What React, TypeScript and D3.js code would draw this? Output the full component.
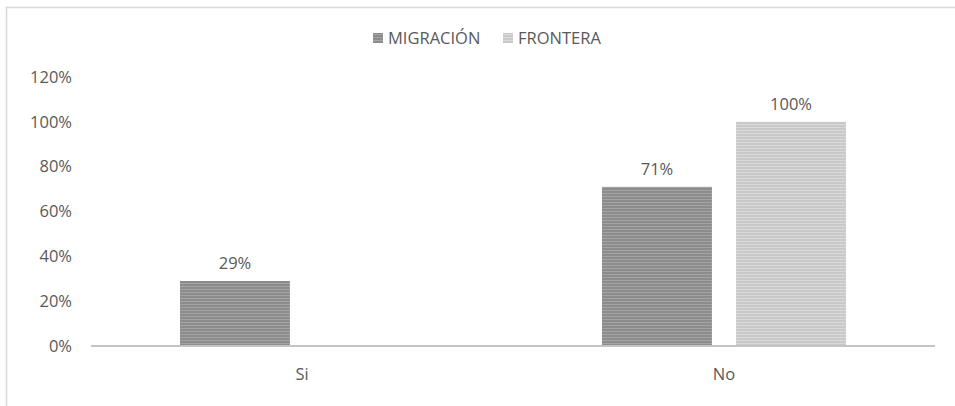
import * as d3 from "d3";

// chart data
const categories = ["Si", "No"];
const series = ["MIGRACIÓN", "FRONTERA"];
const migracion = [0.29, 0.71];
const frontera = [0, 1.0];
const yTicks = [0, 0.2, 0.4, 0.6, 0.8, 1.0, 1.2];

const seriesValues = [migracion, frontera];
const colors = ["#8c8c8c", "#c9c9c9"];
const stripe = ["#a4a4a4", "#dadada"];

export default function App() {
  const width = 955;
  const height = 406;
  const marginLeft = 91;
  const marginRight = 20;
  const marginTop = 77;
  const marginBottom = 60;

  const x0 = d3.scaleBand<string>()
    .domain(categories)
    .range([marginLeft, width - marginRight])
    .paddingInner(0)
    .paddingOuter(0);

  const half = 122;
  const x1 = d3.scaleBand<string>()
    .domain(series)
    .range([x0.bandwidth() / 2 - half, x0.bandwidth() / 2 + half])
    .paddingInner(0.18);

  const y = d3.scaleLinear([0, 1.2], [height - marginBottom, marginTop]);
  const fmt = d3.format(".0%");
  const textColor = "#595959";
  const font = "'Open Sans', sans-serif";
  const fs = 16.5;

  return (
    <svg
      width={width}
      height={height}
      style={{ position: "absolute", left: 0, top: 0, background: "#fff", fontFamily: font }}
    >
      <defs>
        {series.map((s, i) => (
          <pattern key={s} id={`stripe${i}`} width={4} height={3} patternUnits="userSpaceOnUse">
            <rect width={4} height={3} fill={colors[i]} />
            <rect width={4} height={1} y={1} fill={stripe[i]} />
          </pattern>
        ))}
      </defs>

      {/* frame */}
      <line x1={6.5} x2={6.5} y1={7} y2={height} stroke="#d9d9d9" strokeWidth={1.5} />
      <line x1={6} x2={width} y1={7.5} y2={7.5} stroke="#d9d9d9" strokeWidth={1.5} />

      {/* legend */}
      {series.map((s, i) => {
        const lx = i === 0 ? 373 : 503;
        return (
          <g key={s}>
            <rect x={lx} y={33} width={10} height={10} fill={`url(#stripe${i})`} />
            <text x={lx + 15} y={44} fontSize={fs} fill={textColor}>{s}</text>
          </g>
        );
      })}

      {/* y axis labels */}
      {yTicks.map(t => (
        <text key={t} x={72} y={y(t)} dy="0.35em" textAnchor="end" fontSize={fs} fill={textColor}>
          {fmt(t)}
        </text>
      ))}

      {/* bars */}
      {categories.map((c, ci) => (
        <g key={c} transform={`translate(${x0(c)},0)`}>
          {series.map((s, si) => {
            const v = seriesValues[si][ci];
            if (!v) return null;
            return (
              <g key={s}>
                <rect
                  x={x1(s)}
                  y={y(v)}
                  width={x1.bandwidth()}
                  height={y(0) - y(v)}
                  fill={`url(#stripe${si})`}
                />
                <text
                  x={(x1(s) as number) + x1.bandwidth() / 2}
                  y={y(v) - 12}
                  textAnchor="middle"
                  fontSize={fs}
                  fill={textColor}
                >
                  {fmt(v)}
                </text>
              </g>
            );
          })}
          <text
            x={x0.bandwidth() / 2}
            y={y(0) + 34}
            textAnchor="middle"
            fontSize={fs}
            fill={textColor}
          >
            {c}
          </text>
        </g>
      ))}

      {/* baseline */}
      <line
        x1={marginLeft}
        x2={width - marginRight}
        y1={y(0)}
        y2={y(0)}
        stroke="#c4c4c4"
        strokeWidth={2}
      />
    </svg>
  );
}
